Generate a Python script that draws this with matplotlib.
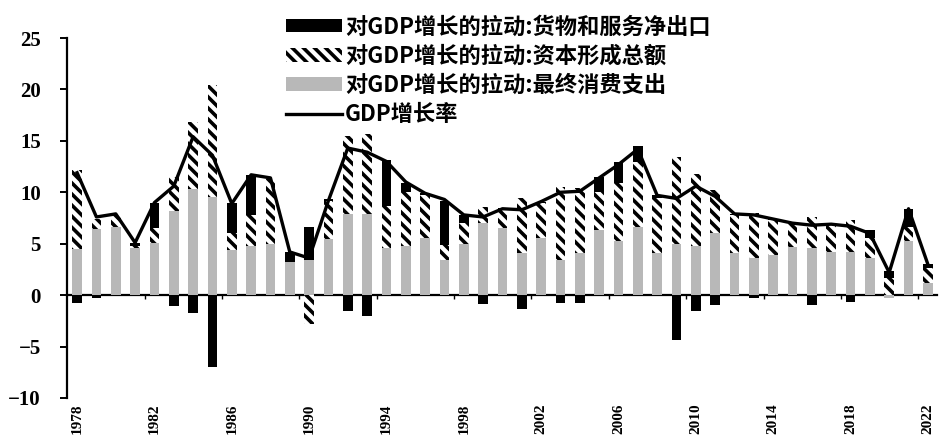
import numpy as np
import matplotlib
matplotlib.use("Agg")
import matplotlib.pyplot as plt

years = list(range(1978, 2023))

# contributions to GDP growth (percentage points)
consumption = [4.5, 6.4, 6.6, 4.6, 5.1, 8.2, 10.3, 9.5, 4.4, 4.8,
               5.0, 3.2, 3.4, 5.5, 7.9, 7.9, 4.6, 4.8, 5.6, 3.4,
               5.0, 7.0, 6.5, 4.1, 5.6, 3.4, 4.1, 6.3, 5.3, 6.6,
               4.1, 5.0, 4.8, 6.0, 4.1, 3.6, 3.9, 4.7, 4.6, 4.2,
               4.2, 3.6, -0.3, 5.3, 1.2]
capital = [7.7, 1.0, 1.3, 0.2, 1.4, 3.3, 6.5, 10.9, 1.6, 3.0,
           6.3, 0.0, -2.8, 3.7, 7.6, 7.8, 4.1, 5.2, 4.1, 1.5,
           2.0, 1.6, 2.0, 5.3, 3.4, 7.1, 6.3, 3.7, 5.6, 6.3,
           5.3, 8.4, 7.0, 4.2, 3.7, 4.4, 3.4, 2.3, 3.0, 2.6,
           3.1, 2.0, 1.7, 1.3, 1.4]
net_exports = [-0.8, -0.3, 0.0, 0.3, 2.5, -1.1, -1.7, -7.0, 3.0, 3.9,
               -0.1, 1.0, 3.2, 0.1, -1.5, -2.0, 4.4, 0.9, 0.2, 4.3,
               0.8, -0.9, 0.0, -1.3, 0.1, -0.8, -0.8, 1.5, 2.0, 1.6,
               0.3, -4.4, -1.5, -1.0, 0.1, -0.3, 0.1, -0.1, -1.0, 0.1,
               -0.7, 0.7, 0.6, 1.8, 0.4]
gdp_growth = [11.9, 7.6, 7.9, 5.1, 9.0, 10.6, 15.4, 13.6, 8.9, 11.7,
              11.4, 4.2, 3.6, 9.2, 14.3, 13.9, 13.0, 11.0, 9.9, 9.3,
              7.8, 7.6, 8.4, 8.3, 9.1, 10.0, 10.1, 11.4, 12.7, 14.2,
              9.7, 9.4, 10.6, 9.6, 7.9, 7.8, 7.4, 7.0, 6.8, 6.9,
              6.7, 6.0, 2.2, 8.4, 3.0]

label_years = list(range(1978, 2023, 4))
labels = ["对GDP增长的拉动:最终消费支出", "对GDP增长的拉动:资本形成总额",
          "对GDP增长的拉动:货物和服务净出口", "GDP增长率"]

plt.rcParams['hatch.linewidth'] = 2.6
cjk = ['Noto Sans CJK SC', 'DejaVu Sans']
serif = 'Liberation Serif'

fig = plt.figure(figsize=(9.39, 4.36), dpi=100)
ax = fig.add_axes([0.0714, 0.0872, 0.926, 0.8256])

ymin, ymax = -10, 25
styles = [dict(color='#b8b8b8', linewidth=0),
          dict(facecolor='white', edgecolor='black', hatch='\\\\\\', linewidth=0),
          dict(color='black', linewidth=0)]
pos = np.zeros(len(years))
neg = np.zeros(len(years))
bars = []
for vals, st, lab in zip([consumption, capital, net_exports], styles, labels):
    v = np.array(vals)
    bottom = np.where(v >= 0, pos, neg)
    bars.append(ax.bar(years, v, 0.5, bottom=bottom, label=lab, **st))
    pos += np.clip(v, 0, None)
    neg += np.clip(v, None, 0)

line, = ax.plot(years, gdp_growth, color='black', linewidth=2.4, label=labels[3])

ax.set_xlim(1977.48, 2022.45)
ax.set_ylim(ymin, ymax)
ax.set_yticks(range(-10, 26, 5))
for s in ['top', 'right', 'bottom']:
    ax.spines[s].set_visible(False)
ax.spines['left'].set_linewidth(1.6)
ax.tick_params(axis='y', length=5, width=1.4, pad=14)
for t in ax.get_yticklabels():
    t.set_fontfamily(serif)
    t.set_fontweight('bold')
    t.set_fontsize(15)

ax.set_xticks(label_years)
ax.set_xticklabels([str(y) for y in label_years], rotation=90, va='top',
                   fontfamily=serif, fontweight='bold', fontsize=11)
ax.tick_params(axis='x', length=0, pad=4)

# zero line with small marks between groups of four years
sec = ax.secondary_xaxis((0 - ymin) / (ymax - ymin))
sec.set_xticks(np.arange(1981.5, 2022, 4))
sec.set_xticklabels([])
sec.tick_params(length=3, width=1)
sec.spines['bottom'].set_linewidth(1.6)

handles = [bars[2], bars[1], bars[0], line]
hl = [labels[2], labels[1], labels[0], labels[3]]
fig.legend(handles, hl, loc='upper left', bbox_to_anchor=(0.293, 0.99),
           frameon=False, borderpad=0, handlelength=2.5, handleheight=0.55,
           handletextpad=0.15, labelspacing=0.28,
           prop=dict(family=cjk, weight='bold', size=16))

fig.savefig('out.png', dpi=100)
